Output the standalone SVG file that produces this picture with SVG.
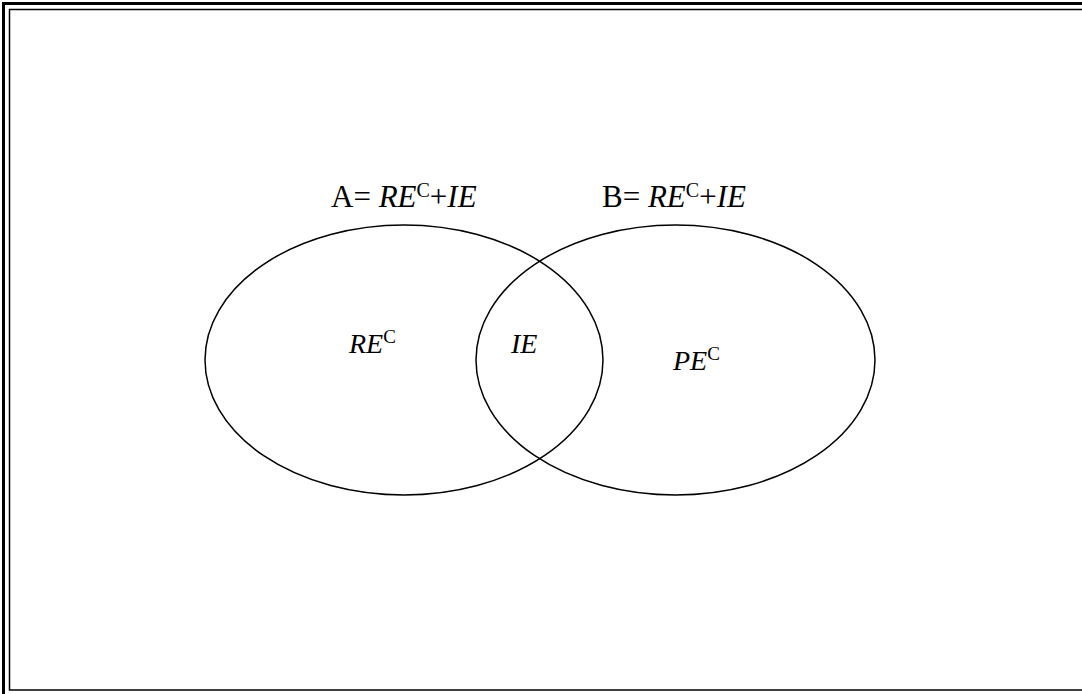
<svg xmlns="http://www.w3.org/2000/svg" width="1082" height="694" viewBox="0 0 1082 694">
<style>
.frame{fill:none;stroke:#000}
.set{fill:none;stroke:#000;stroke-width:1.5}
.lbl{font-family:"Liberation Serif","Times New Roman",serif;font-size:31px;fill:#000}
.in{font-family:"Liberation Serif","Times New Roman",serif;font-size:28px;fill:#000;font-style:italic}
.it{font-style:italic}
</style>
<rect width="1082" height="694" fill="#fff"/>
<g id="frame">
<rect class="frame" x="3.5" y="3.5" width="1100" height="700" stroke-width="3"/>
<rect class="frame" x="9.5" y="9.5" width="1100" height="680.5" stroke-width="1.5"/>
</g>
<g id="setA">
<ellipse class="set" cx="404" cy="360" rx="199" ry="135"/>
<text id="labelA" class="lbl" x="331" y="207">A= <tspan class="it">RE</tspan><tspan font-size="20" dy="-10">C</tspan><tspan dy="10">+</tspan><tspan class="it">IE</tspan></text>
<text class="in" x="349" y="353">RE<tspan font-size="19" font-style="normal" dy="-10">C</tspan></text>
</g>
<g id="setB">
<ellipse class="set" cx="675.5" cy="360" rx="199.5" ry="135"/>
<text id="labelB" class="lbl" x="602" y="207">B= <tspan class="it">RE</tspan><tspan font-size="20" dy="-10">C</tspan><tspan dy="10">+</tspan><tspan class="it">IE</tspan></text>
<text class="in" x="673" y="370">PE<tspan font-size="19" font-style="normal" dy="-10">C</tspan></text>
</g>
<g id="intersection">
<text class="in" x="511" y="353">IE</text>
</g>
<g id="connectors"></g>
</svg>
